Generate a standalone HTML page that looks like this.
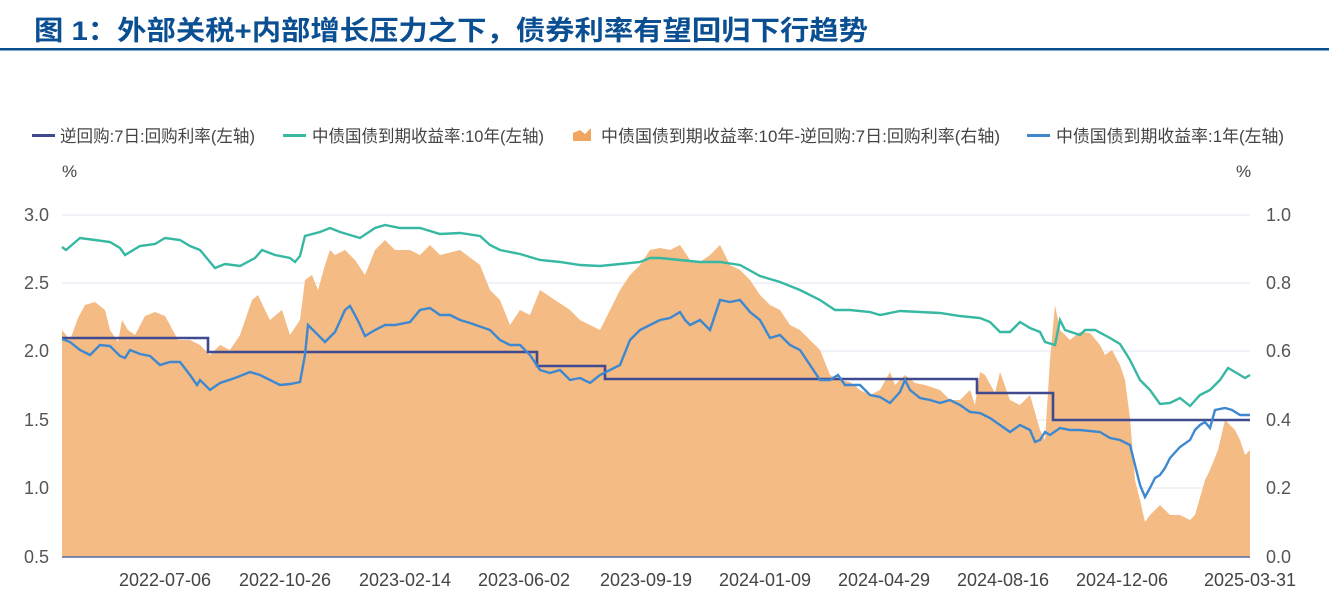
<!DOCTYPE html>
<html><head><meta charset="utf-8"><style>
body{margin:0;background:#fff;width:1329px;height:607px;overflow:hidden;font-family:"Liberation Sans","Noto Sans CJK SC",sans-serif}
</style></head><body>
<svg width="1329" height="607" xmlns="http://www.w3.org/2000/svg" style="position:absolute;left:0;top:0">
<text x="34" y="40" font-size="27" font-weight="bold" fill="#0b4f93" textLength="834" lengthAdjust="spacingAndGlyphs" font-family="Liberation Sans,Noto Sans CJK SC,sans-serif">图 1：外部关税+内部增长压力之下，债券利率有望回归下行趋势</text>
<rect x="0" y="48" width="1329" height="2.5" fill="#0b4f93"/>
<g font-size="17" fill="#444" font-family="Liberation Sans,Noto Sans CJK SC,sans-serif">
<rect x="32" y="134" width="23" height="3" fill="#3f4a8f"/><text x="60" y="142" textLength="195" lengthAdjust="spacingAndGlyphs">逆回购:7日:回购利率(左轴)</text>
<rect x="283" y="134" width="23" height="3" fill="#36b8a3"/><text x="312" y="142" textLength="232" lengthAdjust="spacingAndGlyphs">中债国债到期收益率:10年(左轴)</text>
<path d="M573 141 L573 133 L580 130 L585 134 L591 128 L591 141Z" fill="#f0a560"/><text x="601" y="142" textLength="399" lengthAdjust="spacingAndGlyphs">中债国债到期收益率:10年-逆回购:7日:回购利率(右轴)</text>
<rect x="1027" y="134" width="23" height="3" fill="#3e88d0"/><text x="1056" y="142" textLength="228" lengthAdjust="spacingAndGlyphs">中债国债到期收益率:1年(左轴)</text>
<text x="62" y="177">%</text><text x="1236" y="177">%</text>
</g>
<g stroke="#eceef5" stroke-width="1.5">
<line x1="62" y1="215" x2="1250" y2="215"/><line x1="62" y1="283" x2="1250" y2="283"/><line x1="62" y1="351" x2="1250" y2="351"/><line x1="62" y1="420" x2="1250" y2="420"/><line x1="62" y1="488" x2="1250" y2="488"/>
</g>
<g font-size="18" fill="#555" font-family="Liberation Sans,sans-serif">
<text x="24" y="221">3.0</text><text x="24" y="289">2.5</text><text x="24" y="357">2.0</text><text x="24" y="426">1.5</text><text x="24" y="494">1.0</text><text x="24" y="563">0.5</text>
<text x="1266" y="221">1.0</text><text x="1266" y="289">0.8</text><text x="1266" y="357">0.6</text><text x="1266" y="426">0.4</text><text x="1266" y="494">0.2</text><text x="1266" y="563">0.0</text>
</g>
<g font-size="18" fill="#444" text-anchor="middle" font-family="Liberation Sans,sans-serif">
<text x="165" y="586">2022-07-06</text><text x="285" y="586">2022-10-26</text><text x="405" y="586">2023-02-14</text><text x="524" y="586">2023-06-02</text><text x="646" y="586">2023-09-19</text><text x="765" y="586">2024-01-09</text><text x="884" y="586">2024-04-29</text><text x="1003" y="586">2024-08-16</text><text x="1122" y="586">2024-12-06</text><text x="1250" y="586">2025-03-31</text>
</g>
<polygon fill="#f4bb84" points="62,557 62,330 70,340 78,318 85,305 95,302 105,310 110,330 118,342 122,320 128,330 135,335 145,316 155,312 165,316 170,325 178,340 190,340 200,345 210,355 220,345 230,350 240,335 252,300 258,295 265,310 270,320 282,310 290,335 300,320 305,280 312,275 318,290 325,265 330,250 335,255 345,250 355,260 365,275 375,250 385,240 395,250 410,250 420,255 430,245 440,255 460,250 480,265 490,290 500,300 510,325 520,310 530,315 540,290 555,300 570,310 580,320 590,325 600,330 610,310 620,290 630,275 640,265 650,250 660,248 670,250 680,245 690,260 700,262 710,255 720,245 730,265 740,270 750,280 760,295 770,305 780,310 790,325 800,330 810,340 820,350 830,375 840,380 850,382 860,390 870,395 880,390 890,372 895,385 905,375 915,383 925,385 940,390 950,400 960,400 970,390 975,405 980,372 985,375 995,393 1000,372 1010,400 1020,405 1030,395 1040,430 1045,440 1050,360 1055,305 1060,330 1070,340 1080,332 1090,333 1100,345 1105,355 1112,350 1120,365 1125,380 1130,418 1135,480 1140,500 1145,522 1150,515 1155,510 1160,505 1170,515 1180,515 1190,520 1195,515 1205,480 1210,470 1218,450 1225,420 1230,425 1235,430 1240,440 1245,455 1250,450 1250,557"/>
<line x1="62" y1="557" x2="1250" y2="557" stroke="#5a6aa8" stroke-width="1.5"/>
<polyline fill="none" stroke="#36b8a3" stroke-width="2.4" points="62,247 66,250 80,238 95,240 110,242 120,248 125,255 140,246 155,244 165,238 180,240 190,246 200,250 205,256 215,268 225,264 240,266 255,258 262,250 275,255 290,258 295,262 300,256 305,236 320,232 330,228 340,232 360,238 375,228 385,225 400,228 420,228 440,234 460,233 480,236 490,245 500,250 520,254 540,260 560,262 580,265 600,266 620,264 640,262 650,258 660,258 680,260 700,262 720,262 740,265 760,276 780,282 800,290 820,300 835,310 850,310 870,312 880,315 900,311 920,312 940,313 960,316 980,318 990,322 1000,332 1010,332 1020,322 1030,328 1040,332 1045,342 1055,345 1060,320 1065,330 1080,335 1085,330 1095,330 1110,338 1120,344 1130,360 1140,380 1150,390 1160,404 1170,403 1180,398 1190,406 1200,395 1210,390 1220,380 1228,368 1235,372 1245,378 1250,375"/>
<polyline fill="none" stroke="#3f4a8f" stroke-width="2.6" points="62,338 208,338 208,352 537,352 537,366 605,366 605,379 977,379 977,393 1053,393 1053,420 1250,420"/>
<polyline fill="none" stroke="#3e88d0" stroke-width="2.4" points="62,339 70,342 80,350 90,355 100,345 110,346 120,356 125,358 130,350 140,354 150,356 160,365 170,362 180,362 190,375 197,385 200,380 210,390 220,383 235,378 250,372 260,375 270,380 280,385 290,384 300,382 305,355 308,325 318,335 325,342 335,332 345,310 350,306 355,315 360,325 365,336 375,330 385,325 395,325 410,322 420,310 430,308 440,315 450,315 460,320 470,323 490,330 500,340 510,345 520,345 530,355 540,370 550,373 560,370 570,380 580,378 590,383 600,375 610,370 620,365 630,340 640,330 650,325 660,320 670,318 680,312 685,320 690,325 700,320 710,330 720,300 730,302 740,300 750,312 760,320 770,338 780,335 790,345 800,350 810,365 820,380 830,380 838,375 845,385 860,385 870,395 880,397 890,403 900,392 905,380 910,390 920,398 930,400 940,403 950,400 960,405 970,412 980,413 990,418 1000,425 1010,432 1020,425 1030,430 1035,442 1040,440 1045,432 1050,435 1060,428 1070,430 1080,430 1100,432 1110,438 1120,440 1130,445 1135,465 1140,485 1145,497 1150,488 1155,478 1160,475 1165,468 1170,458 1180,447 1190,440 1195,430 1200,425 1205,422 1210,428 1215,410 1225,408 1232,410 1240,415 1250,415"/>
</svg>
</body></html>
